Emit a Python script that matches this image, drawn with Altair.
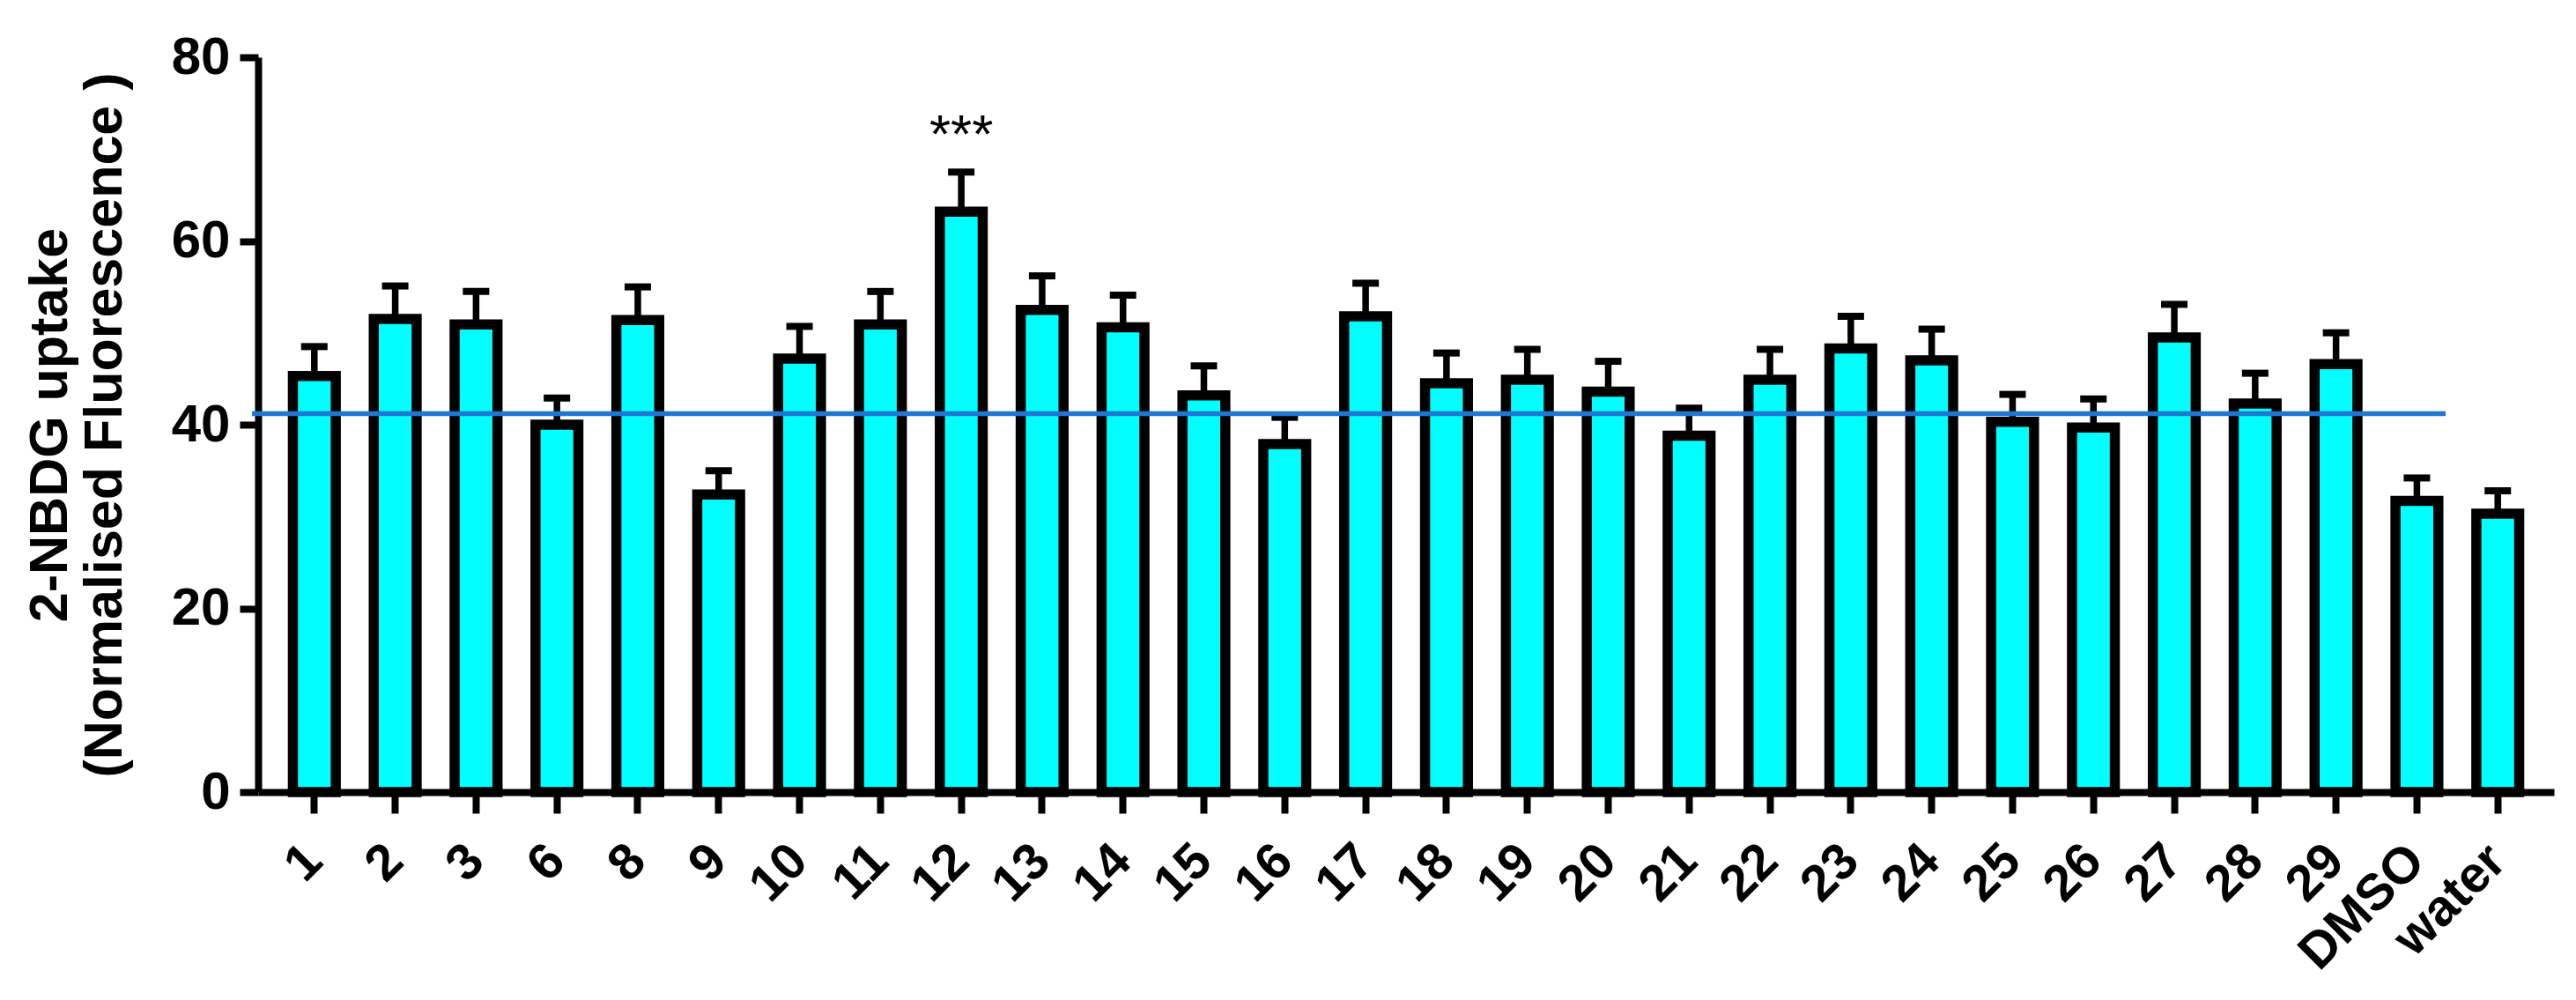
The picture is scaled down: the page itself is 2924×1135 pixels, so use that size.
import altair as alt
import pandas as pd

# ---- data ----
categories = ["1", "2", "3", "6", "8", "9", "10", "11", "12", "13", "14", "15", "16",
              "17", "18", "19", "20", "21", "22", "23", "24", "25", "26", "27", "28",
              "29", "DMSO", "water"]
means = [45.3, 51.5, 50.9, 40.0, 51.4, 32.4, 47.2, 50.9, 63.2, 52.5, 50.6, 43.2, 37.9,
         51.8, 44.5, 44.9, 43.6, 38.8, 44.9, 48.3, 47.0, 40.3, 39.7, 49.5, 42.3,
         46.6, 31.7, 30.3]
sems = [3.2, 3.6, 3.6, 2.9, 3.6, 2.6, 3.5, 3.6, 4.3, 3.7, 3.5, 3.2, 2.9,
        3.6, 3.3, 3.3, 3.3, 3.0, 3.3, 3.5, 3.4, 3.0, 3.1, 3.6, 3.3,
        3.4, 2.5, 2.5]
reference_level = [41.2]
sig_categories = ["12"]
sig_labels = ["***"]
y_ticks = [0, 20, 40, 60, 80]
y_title = ["2-NBDG uptake", "(Normalised Fluorescence )"]

df = pd.DataFrame({"compound": categories, "mean": means, "sem": sems})
df["top"] = df["mean"] + df["sem"]
ann = pd.DataFrame({"compound": sig_categories, "label": sig_labels})
ann = ann.merge(df[["compound", "top"]], on="compound")
ref = pd.DataFrame({"level": reference_level})

FONT = "Liberation Sans"
W, H = 2606, 834

x_enc = alt.X(
    "compound:N",
    sort=categories,
    scale=alt.Scale(paddingInner=0.47, paddingOuter=0.43),
    axis=alt.Axis(
        title=None,
        labelAngle=-45,
        labelAlign="right",
        labelBaseline="middle",
        labelFont=FONT,
        labelFontSize=58,
        labelFontWeight="bold",
        labelColor="black",
        labelPadding=45,
        tickSize=24,
        tickWidth=8,
        tickColor="black",
        domainWidth=8,
        domainColor="black",
        grid=False,
    ),
)

y_scale = alt.Scale(domain=[0, 80], nice=False, zero=True)
y_axis = alt.Axis(
    values=y_ticks,
    title=y_title,
    titleFont=FONT,
    titleFontSize=61,
    titleFontWeight="bold",
    titleColor="black",
    titleLineHeight=62,
    titleAngle=-90,
    titleAlign="center",
    titleBaseline="middle",
    titleX=-236,
    titleY=H / 2,
    labelFont=FONT,
    labelFontSize=60,
    labelFontWeight="bold",
    labelColor="black",
    labelPadding=11,
    tickSize=21,
    tickWidth=8,
    tickColor="black",
    domainWidth=8,
    domainColor="black",
    grid=False,
)

bars = alt.Chart(df).mark_bar(
    fill="#00FFFF", stroke="black", strokeWidth=11.5, strokeJoin="miter"
).encode(
    x=x_enc,
    y=alt.Y("mean:Q", scale=y_scale, axis=y_axis),
)

stems = alt.Chart(df).mark_rule(color="black", strokeWidth=7.5).encode(
    x=x_enc,
    y=alt.Y("mean:Q", scale=y_scale),
    y2="top:Q",
)

caps = alt.Chart(df).mark_tick(color="black", size=30, thickness=8, opacity=1).encode(
    x=x_enc,
    y=alt.Y("top:Q", scale=y_scale),
)

ref_line = alt.Chart(ref).mark_rule(color="#1f77d2", strokeWidth=5.5).encode(
    y=alt.Y("level:Q", scale=y_scale),
    x=alt.value(-7),
    x2=alt.value(2483),
)

stars = alt.Chart(ann).mark_text(
    font=FONT, fontSize=62, color="black", align="center", baseline="alphabetic", dy=-22
).encode(
    x=x_enc,
    y=alt.Y("top:Q", scale=y_scale),
    text="label:N",
)

chart = alt.layer(bars, stems, caps, ref_line, stars).properties(
    width=W,
    height=H,
    background="white",
    autosize=alt.AutoSizeParams(type="none"),
    padding={"left": 285, "top": 57, "right": 17, "bottom": 228},
).configure_view(stroke=None)

chart.save("out.html", embed_options={"renderer": "svg", "actions": False})
